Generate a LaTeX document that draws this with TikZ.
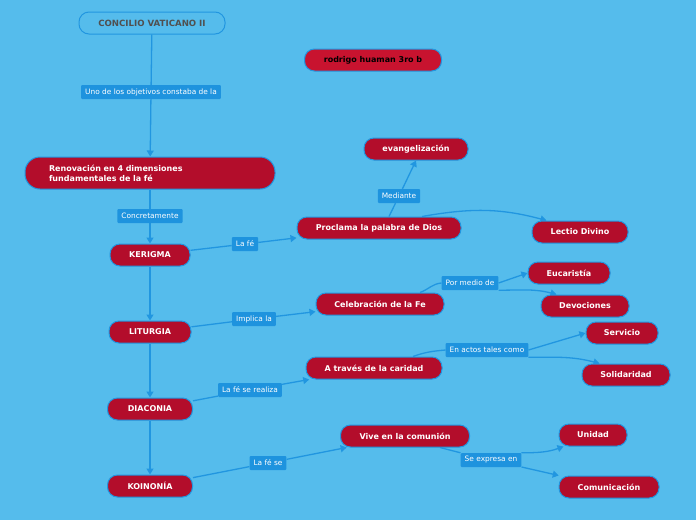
\documentclass[tikz,border=0pt]{standalone}
\usepackage{fontspec}
\setmainfont{DejaVu Sans}
\usetikzlibrary{arrows.meta}
\definecolor{mapSky}{HTML}{55BCEC}
\definecolor{mapLine}{HTML}{2196E0}
\definecolor{mapTag}{HTML}{1E93DE}
\definecolor{mapRed}{HTML}{B30D2B}
\definecolor{mapRedLight}{HTML}{C8132F}
\definecolor{mapGray}{HTML}{505050}
\pgfdeclarelayer{bg}
\pgfdeclarelayer{edges}
\pgfsetlayers{bg,edges,main}

\begin{document}
\begin{tikzpicture}[x=1pt, y=-1pt,
  idea/.style={draw=mapLine, fill=mapRed, text=white, rounded corners=10pt,
               minimum height=22pt, inner sep=2pt, line width=1pt,
               font=\fontsize{8}{10}\selectfont\bfseries},
  title/.style={idea, fill=mapSky, text=mapGray, font=\fontsize{8.6}{10}\selectfont\bfseries},
  author/.style={idea, fill=mapRedLight, text=black},
  tag/.style={fill=mapTag, text=white, rounded corners=1pt, minimum height=14pt,
              inner xsep=4pt, inner ysep=1pt, font=\fontsize{7.4}{8}\selectfont},
  link/.style={draw=mapLine, line width=1.3pt},
  fwd/.style={link, -{Triangle[length=6pt, width=7pt]}},
]
\begin{pgfonlayer}{bg}
  \fill[mapSky] (0,0) rectangle (696,520);
\end{pgfonlayer}

% --- top of the map ---
\node[title, minimum width=146pt] (concilio) at (152,23)  {CONCILIO VATICANO II};
\node[author, minimum width=137pt] (rodrigo) at (373,60)  {rodrigo huaman 3ro b};
\node[idea, minimum height=32pt, rounded corners=15pt, text width=202pt,
      inner xsep=24pt, align=left] (renov) at (150,173)
      {Renovación en 4 dimensiones\\fundamentales de la fé};

% --- the four dimensions ---
\node[idea, minimum width=80pt] (kerigma)  at (150,255) {KERIGMA};
\node[idea, minimum width=82pt] (liturgia) at (150,332) {LITURGIA};
\node[idea, minimum width=85pt] (diaconia) at (150,409) {DIACONIA};
\node[idea, minimum width=85pt] (koinonia) at (150,486) {KOINONÍA};

% --- second column ---
\node[idea, minimum width=164pt] (procl) at (379,228) {Proclama la palabra de Dios};
\node[idea, minimum width=104pt] (evang) at (416,149) {evangelización};
\node[idea, minimum width=96pt]  (lectio) at (580,232) {Lectio Divino};
\node[idea, minimum width=128pt] (celeb) at (380,304) {Celebración de la Fe};
\node[idea, minimum width=82pt]  (eucar) at (569,273) {Eucaristía};
\node[idea, minimum width=88pt]  (devoc) at (585,306) {Devociones};
\node[idea, minimum width=136pt] (carid) at (374,368) {A través de la caridad};
\node[idea, minimum width=72pt]  (servi) at (622,333) {Servicio};
\node[idea, minimum width=88pt]  (solid) at (626,375) {Solidaridad};
\node[idea, minimum width=129pt] (vive)  at (405,436) {Vive en la comunión};
\node[idea, minimum width=68pt]  (unidad) at (593,435) {Unidad};
\node[idea, minimum width=100pt] (comun) at (609,487) {Comunicación};

% --- connector labels ---
\node[tag] (tobjet)  at (151,92)  {Uno de los objetivos constaba de la};
\node[tag] (tconcr)  at (150,216) {Concretamente};
\node[tag] (tfe)     at (245,244) {La fé};
\node[tag] (tmedia)  at (399,196) {Mediante};
\node[tag] (timpl)   at (254,319) {Implica la};
\node[tag] (tmedio)  at (470,283) {Por medio de};
\node[tag] (tactos)  at (487,350) {En actos tales como};
\node[tag] (treal)   at (250,390) {La fé se realiza};
\node[tag] (tfese)   at (268,463) {La fé se};
\node[tag] (texpr)   at (491,460) {Se expresa en};

\begin{pgfonlayer}{edges}
  \draw[link] (concilio) -- (tobjet);
  \draw[fwd]  (tobjet) -- (renov);
  \draw[link] (renov) -- (tconcr);
  \draw[fwd]  (tconcr) -- (kerigma);
  \draw[fwd]  (kerigma) -- (liturgia);
  \draw[fwd]  (liturgia) -- (diaconia);
  \draw[fwd]  (diaconia) -- (koinonia);

  \draw[link] (kerigma) -- (tfe);
  \draw[fwd]  (tfe) -- (procl);
  \draw[link] ([xshift=10pt]procl.north) -- (tmedia);
  \draw[fwd]  (tmedia) -- (evang.south);
  \draw[fwd]  ([xshift=43pt]procl.north) to[out=10, in=165] ([xshift=15pt]lectio.north west);

  \draw[link] (liturgia) -- (timpl);
  \draw[fwd]  (timpl) -- (celeb);
  \draw[link] ([xshift=40pt]celeb.north) to[out=20, in=185] (tmedio.west);
  \draw[fwd]  (tmedio.east) -- (eucar.west);
  \draw[fwd]  (tmedio.south east) to[out=0, in=165] ([xshift=16pt]devoc.north west);

  \draw[link] (diaconia) -- (treal);
  \draw[fwd]  (treal) -- (carid);
  \draw[link] ([xshift=39pt]carid.north) to[out=20, in=185] (tactos.west);
  \draw[fwd]  (tactos.east) -- (servi.west);
  \draw[fwd]  (tactos.south east) to[out=0, in=165] ([xshift=18pt]solid.north west);

  \draw[link] (koinonia) -- (tfese);
  \draw[fwd]  (tfese) -- (vive);
  \draw[link] ([xshift=35pt]vive.south) -- (texpr.north west);
  \draw[fwd]  (texpr.north east) to[out=0, in=200] ([xshift=5pt]unidad.south west);
  \draw[fwd]  (texpr) -- (comun);
\end{pgfonlayer}

\useasboundingbox (0,0) rectangle (696,520);
\end{tikzpicture}
\end{document}
